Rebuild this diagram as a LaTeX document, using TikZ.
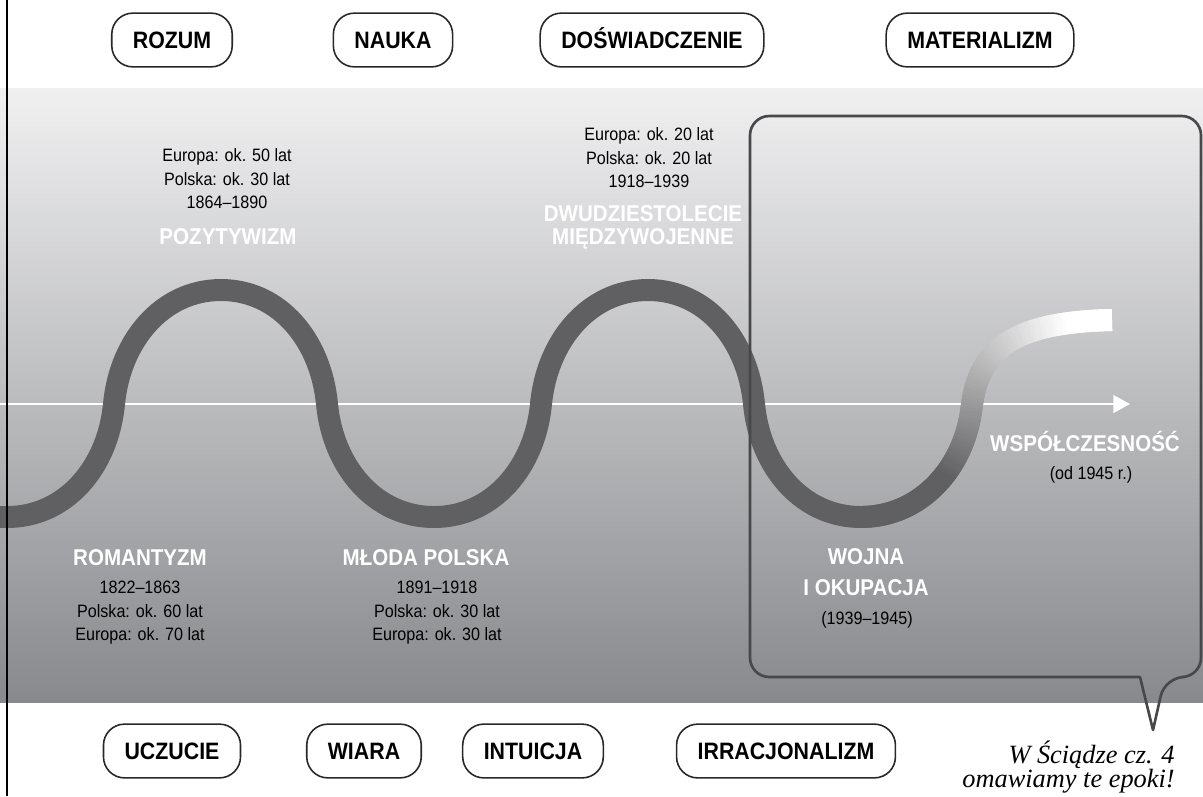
\documentclass[tikz,border=0pt]{standalone}
\usepackage{fontspec}
\setmainfont{Liberation Sans}[FakeStretch=0.9]
\newfontfamily\handfont{Liberation Serif}
\usetikzlibrary{arrows.meta,decorations.markings}

\definecolor{bandtop}{RGB}{240,240,241}
\definecolor{bandbottom}{RGB}{136,137,141}
\definecolor{wavegray}{RGB}{96,96,98}
\definecolor{boxline}{RGB}{72,72,74}
\definecolor{pillline}{RGB}{40,40,40}

\tikzset{
  pill/.style={draw=pillline,line width=0.9pt,rounded corners=12pt,minimum height=30.6pt,inner xsep=12pt,
    text height=9.7pt,text depth=0pt,font=\fontsize{13.5}{16}\bfseries},
  epoch/.style={text=white,align=center,inner sep=0pt,font=\fontsize{13}{13}\bfseries},
  epochone/.style={epoch,text height=9.3pt,text depth=0pt},
  info/.style={align=center,inner sep=0pt,font=\fontsize{10.2}{13.4}\selectfont},
  wave/.style={draw=wavegray,line width=12.5pt,line cap=butt},
}

\begin{document}
\begin{tikzpicture}[x=0.02cm,y=-0.02cm,line join=round]
\useasboundingbox (0,0) rectangle (1203,796);
% tlo
\shade[top color=bandtop,bottom color=bandbottom] (0,88) rectangle (1203,702);

% os czasu
\coordinate (axisstart) at (0,404);
\coordinate (axisend) at (1130,404);
\draw[white,line width=1.5pt,-{Triangle[width=10pt,length=9.5pt]}] (axisstart) -- (axisend);

% koncowka fali (rozjasnia sie)
\coordinate (trough3) at (861,517);
\coordinate (cross5) at (972,404);
\coordinate (tailend) at (1112,320);
\path[decoration={markings,mark=between positions 0 and 0.995 step 0.01 with {\coordinate (t\pgfkeysvalueof{/pgf/decoration/mark info/sequence number});}},decorate]
  (trough3) .. controls (921,517) and (966,467) .. (cross5)
            .. controls (980,345) and (1020,322) .. (tailend);
\coordinate (t101) at (tailend);
\foreach \i in {1,...,100}{
  \pgfmathtruncatemacro\j{min(\i+2,101)}
  \pgfmathtruncatemacro\tone{max(0,min(100,100-(\i/100-0.28)*167))}
  \draw[wave,draw=wavegray!\tone!white] (t\i) -- (t\j);
}

% fala
\coordinate (trough1) at (7,517);
\coordinate (cross1) at (114,404);
\coordinate (peak1) at (221,290);
\coordinate (cross2) at (327,404);
\coordinate (trough2) at (434,517);
\coordinate (cross3) at (541,404);
\coordinate (peak2) at (648,290);
\coordinate (cross4) at (754,404);
\draw[wave,line cap=round] (0,517) -- (trough1)
  .. controls (66,517) and (108,467) .. (cross1)
  .. controls (120,341) and (162,290) .. (peak1)
  .. controls (280,290) and (321,341) .. (cross2)
  .. controls (333,467) and (375,517) .. (trough2)
  .. controls (493,517) and (535,467) .. (cross3)
  .. controls (547,341) and (589,290) .. (peak2)
  .. controls (707,290) and (748,341) .. (cross4)
  .. controls (760,467) and (802,517) .. (trough3);

% ramka z dymkiem
\draw[boxline,line width=1.5pt] (1153,730) -- (1140,677) [rounded corners=11pt] -- (750,677) -- (750,116)
  -- (1201,116) -- (1201,677) -- (1165,677) [sharp corners] -- cycle;

% epoki
\node[epochone] (pozytywizm) at (228,236) {POZYTYWIZM};
\node[info] (pozDates) at (227,179) {Europa: ok. 50 lat\\Polska: ok. 30 lat\\1864–1890};
\node[epoch] (dwudziestolecie) at (643,227) {DWUDZIESTOLECIE\\MIĘDZYWOJENNE};
\node[info] (dwuDates) at (649,158) {Europa: ok. 20 lat\\Polska: ok. 20 lat\\1918–1939};
\node[epochone] (romantyzm) at (140,557) {ROMANTYZM};
\node[info] (romDates) at (140,613) {1822–1863\\Polska: ok. 60 lat\\Europa: ok. 70 lat};
\node[epochone] (mlodaPolska) at (426,557) {MŁODA POLSKA};
\node[info] (mlpDates) at (437,613) {1891–1918\\Polska: ok. 30 lat\\Europa: ok. 30 lat};
\node[epoch,font=\fontsize{13}{17.6}\bfseries] (wojna) at (866,572) {WOJNA\\I OKUPACJA};
\node[info] (wojDates) at (867,620) {(1939–1945)};
\node[epochone] (wspolczesnosc) at (1085,443) {WSPÓŁCZESNOŚĆ};
\node[info] (wspDates) at (1091,475) {(od 1945 r.)};

% hasla
\node[pill] (rozum) at (172,40) {ROZUM};
\node[pill] (nauka) at (393,40) {NAUKA};
\node[pill] (doswiadczenie) at (652,40) {DOŚWIADCZENIE};
\node[pill] (materializm) at (980,40) {MATERIALIZM};
\node[pill] (uczucie) at (172,751) {UCZUCIE};
\node[pill] (wiara) at (364,751) {WIARA};
\node[pill] (intuicja) at (533,751) {INTUICJA};
\node[pill] (irracjonalizm) at (786,751) {IRRACJONALIZM};

\node[align=right,anchor=east,inner sep=0pt,font=\handfont\itshape\fontsize{15}{13.6}\selectfont] (note) at (1175,767) {W Ściądze cz. 4\\omawiamy te epoki!};

% linia z lewej
\draw[black,line width=0.6pt] (7,0) -- (7,796);
\end{tikzpicture}
\end{document}
